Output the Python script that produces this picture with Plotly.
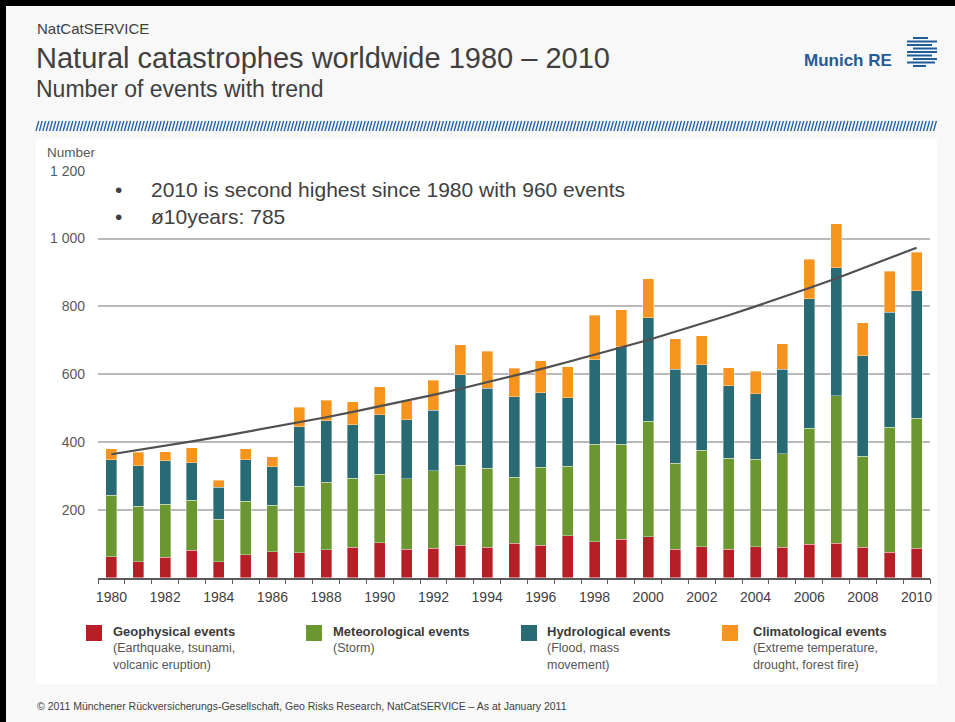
import plotly.graph_objects as go

# ---- data -------------------------------------------------------------
years = list(range(1980, 2011))
geophysical = [62, 47, 60, 81, 47, 68, 77, 74, 83, 90, 103, 84, 87, 96, 90, 101,
               96, 124, 106, 113, 121, 84, 92, 84, 92, 90, 98, 101, 90, 75, 87]
meteorological = [181, 164, 156, 147, 126, 158, 137, 196, 198, 203, 202, 207, 228, 236, 233, 195,
                  230, 205, 287, 280, 340, 254, 284, 268, 257, 275, 343, 435, 268, 369, 383]
hydrological = [105, 119, 129, 111, 94, 122, 113, 175, 182, 158, 176, 175, 178, 266, 235, 238,
                219, 202, 250, 288, 305, 276, 252, 214, 194, 249, 382, 378, 297, 338, 376]
climatological = [32, 40, 27, 44, 20, 32, 30, 58, 60, 68, 82, 56, 89, 89, 109, 83,
                  95, 91, 131, 109, 116, 91, 86, 53, 66, 76, 116, 130, 97, 121, 114]
trend = [364, 376, 389, 402, 415, 429, 443, 458, 473, 489, 505, 522, 539, 557, 576, 595,
         615, 636, 657, 679, 701, 725, 749, 774, 800, 826, 854, 882, 912, 942, 973]

series_names = ["Geophysical events", "Meteorological events",
                "Hydrological events", "Climatological events"]
series_notes = [["(Earthquake, tsunami,", "volcanic eruption)"],
                ["(Storm)"],
                ["(Flood, mass", "movement)"],
                ["(Extreme temperature,", "drought, forest fire)"]]
series_values = [geophysical, meteorological, hydrological, climatological]
series_colors = ["#b71f26", "#6a972f", "#286b74", "#f7941e"]

y_ticks = [200, 400, 600, 800, 1000, 1200]
y_tick_text = ["200", "400", "600", "800", "1 000", "1 200"]
x_ticks = years[::2]

W, H = 955, 722


def px(x):
    return x / W


def py(y):
    return 1 - y / H


TXT = "#404040"
FONT = "Liberation Sans, Arial, sans-serif"

fig = go.Figure()

for name, vals, col in zip(series_names, series_values, series_colors):
    fig.add_trace(go.Bar(
        x=years, y=vals, name=name,
        marker=dict(color=col, line=dict(color="rgba(255,255,255,0.45)", width=0.8)),
        showlegend=False,
    ))

fig.add_trace(go.Scatter(
    x=years, y=trend, mode="lines", name="Trend",
    line=dict(color="#505050", width=2.2), showlegend=False,
))

shapes = []
# white content panel
shapes.append(dict(type="rect", xref="paper", yref="paper", layer="below",
                   x0=px(36), x1=px(937), y0=py(684), y1=py(139),
                   fillcolor="white", line=dict(width=0)))
# dark frame on top and left edges
shapes.append(dict(type="rect", xref="paper", yref="paper",
                   x0=0, x1=1, y0=py(6), y1=1, fillcolor="black", line=dict(width=0)))
shapes.append(dict(type="rect", xref="paper", yref="paper",
                   x0=0, x1=px(6), y0=0, y1=1, fillcolor="black", line=dict(width=0)))

# hatched divider under the header
segs = []
x = 36.0
while x < 935:
    segs.append(f"M {px(x):.5f} {py(131):.5f} L {px(x + 2.8):.5f} {py(121):.5f}")
    x += 3.4
shapes.append(dict(type="path", xref="paper", yref="paper", path=" ".join(segs),
                   line=dict(color="#1f5fa6", width=1.3)))

# logo stripes
logo_rows = [(38, 913, 928), (41.5, 907, 937), (45, 907, 932), (48.5, 913, 937),
             (52, 907, 937), (55.5, 907, 932), (59, 913, 937), (62.5, 907, 935),
             (66, 913, 926)]
logo_path = " ".join(f"M {px(a):.5f} {py(yy):.5f} L {px(b):.5f} {py(yy):.5f}"
                     for yy, a, b in logo_rows)
shapes.append(dict(type="path", xref="paper", yref="paper", path=logo_path,
                   line=dict(color="#1f5c99", width=2.2)))

annotations = []


def note(text, x, y, size, color=TXT, xanchor="left", bold=False):
    annotations.append(dict(
        text=f"<b>{text}</b>" if bold else text, xref="paper", yref="paper",
        x=px(x), y=py(y), xanchor=xanchor, yanchor="middle", showarrow=False,
        font=dict(family=FONT, size=size, color=color),
    ))


note("NatCatSERVICE", 35, 29, 15)
note("Natural catastrophes worldwide 1980 – 2010", 34, 58, 29)
note("Number of events with trend", 34, 89, 23)
note("Munich RE", 802, 61, 17, color="#1f5c99", bold=True)

note("Number", 45, 152, 13.5, color="#595959")
note("•", 118, 190, 21, xanchor="center")
note("•", 118, 216, 21, xanchor="center")
note("2010 is second highest since 1980 with 960 events", 149, 190, 21)
note("ø10years: 785", 149, 216, 21)

# legend
legend_x = [(86, 111), (306, 331), (521, 545), (722, 751)]
for (sx, tx), name, notes, col in zip(legend_x, series_names, series_notes, series_colors):
    shapes.append(dict(type="rect", xref="paper", yref="paper",
                       x0=px(sx), x1=px(sx + 16), y0=py(641), y1=py(625),
                       fillcolor=col, line=dict(width=0)))
    note(name, tx, 631, 13, color="#3a3a3a", bold=True)
    for i, line in enumerate(notes):
        note(line, tx, 648 + 17 * i, 12.5, color="#555555")

note("© 2011 Münchener Rückversicherungs-Gesellschaft, Geo Risks Research, "
     "NatCatSERVICE – As at January 2011", 35, 706, 10.5)

fig.update_layout(
    width=W, height=H,
    margin=dict(l=0, r=0, t=0, b=0, pad=0, autoexpand=False),
    paper_bgcolor="#f8f8f8", plot_bgcolor="rgba(0,0,0,0)",
    barmode="stack", bargap=0.59,
    font=dict(family=FONT, color=TXT),
    shapes=shapes, annotations=annotations,
    xaxis=dict(
        domain=[px(98), px(930)], range=[1979.5, 2010.5],
        tickmode="array", tickvals=x_ticks, ticks="", ticklabelstandoff=6,
        tickfont=dict(size=14, color=TXT),
        showgrid=False, zeroline=False,
        showline=True, linecolor="#5a5a5a", linewidth=1.5,
        minor=dict(tick0=1979.5, dtick=1, ticks="outside", ticklen=5,
                   tickcolor="#5a5a5a", tickwidth=1.3, showgrid=False),
    ),
    yaxis=dict(
        domain=[py(577.7), py(170.7)], range=[0, 1200],
        tickmode="array", tickvals=y_ticks, ticktext=y_tick_text,
        tickfont=dict(size=14, color="#595959"), ticklabelstandoff=12,
        showgrid=True, gridcolor="#b9b9b9", gridwidth=1.5,
        zeroline=False, showline=False, ticks="",
    ),
)

fig.write_html("out.html", config={"displayModeBar": False})
